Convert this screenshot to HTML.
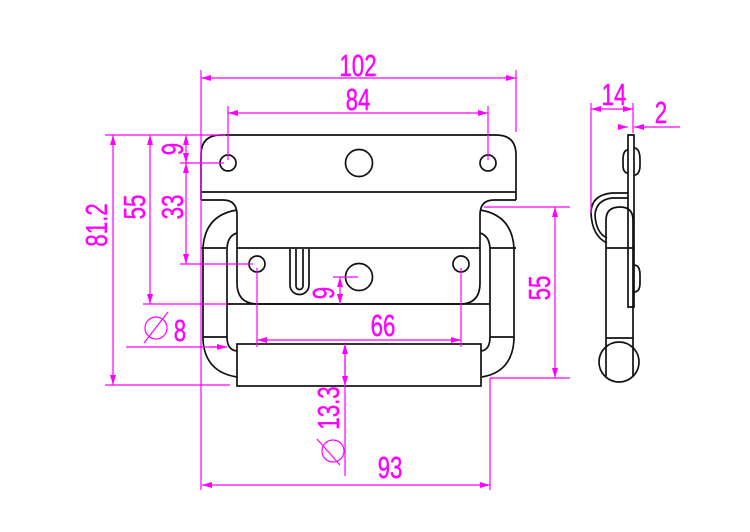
<!DOCTYPE html>
<html><head><style>body{margin:0;background:#fff}svg{display:block}</style></head><body>
<svg width="750" height="532" viewBox="0 0 750 532" xmlns="http://www.w3.org/2000/svg">
<defs>
<marker id="a" viewBox="0 0 10 6" refX="10" refY="3" markerWidth="16" markerHeight="6" markerUnits="userSpaceOnUse" orient="auto-start-reverse"><path d="M0,0L10,3L0,6z" fill="#f0f"/></marker>
</defs>
<g fill="none" stroke="#111" stroke-width="1.7">
<path d="M201,200 V155 Q201,135 221,135 H496 Q516,135 516,155 V200"/>
<line x1="201" y1="192" x2="516" y2="192"/>
<circle cx="228" cy="163" r="8"/><circle cx="359" cy="163" r="13.5"/><circle cx="488" cy="163" r="8"/>
<path d="M201,200 H223 Q237,200 237,215 V283 Q237,304 258,304 H460 Q480,304 480,283 V215 Q480,200 494,200 H516"/>
<line x1="237" y1="248" x2="480" y2="248"/>
<line x1="201" y1="248" x2="226" y2="248"/><line x1="490" y1="248" x2="516" y2="248"/>
<circle cx="257" cy="264" r="8"/><circle cx="359" cy="277" r="13.5"/><circle cx="461" cy="264" r="8"/>
<path d="M290,249 V285 A9.5,9.5 0 0 0 309,285 V249"/><path d="M296,249 V286 A3.5,3.5 0 0 0 303,286 V249"/>
<path d="M237,210 Q205,215 203,248 V340 Q205,372 237,377"/>
<path d="M480,210 Q512,215 514,248 V340 Q512,372 482,377"/>
<path d="M237,233 Q227,236 227,250 V337 Q227,350 237,351"/>
<path d="M480,233 Q490,236 490,250 V337 Q490,350 481,351"/>
<line x1="203" y1="337" x2="227" y2="337"/><line x1="490" y1="337" x2="514" y2="337"/>
<line x1="227" y1="304" x2="490" y2="304"/>
<rect x="237" y="344" width="244" height="42"/>
<path d="M628,307 V135 H634 V307 Z"/>
<path d="M634,148 Q640,148 640,160 V165 Q640,175 634,175"/>
<path d="M628,150 Q623,150 623,160 V165 Q623,173 628,173"/>
<path d="M634,265 Q640,265 640,275 V283 Q640,292 634,292"/>
<path d="M628,193 H612 Q591,195 591,213 Q592,236 607,243"/>
<path d="M628,198 H612 Q596,200 595,215 Q596,233 607,238"/>
<path d="M606,377 V220 Q606,207 620,207 Q633,207 633,220 V377"/>
<line x1="606" y1="248" x2="633" y2="248"/><line x1="606" y1="338" x2="633" y2="338"/>
<circle cx="619" cy="362" r="20"/>
</g>
<g stroke="#f0f" stroke-width="1.2" fill="none">
<line x1="201" y1="70" x2="201" y2="490"/><line x1="516" y1="70" x2="516" y2="132"/>
<line x1="228" y1="106" x2="228" y2="160"/><line x1="488" y1="106" x2="488" y2="160"/>
<line x1="201" y1="78" x2="516" y2="78" marker-start="url(#a)" marker-end="url(#a)"/>
<line x1="228" y1="113" x2="488" y2="113" marker-start="url(#a)" marker-end="url(#a)"/>
<line x1="105" y1="135" x2="226" y2="135"/><line x1="180" y1="163" x2="224" y2="163"/>
<line x1="180" y1="264" x2="253" y2="264"/><line x1="143" y1="304" x2="227" y2="304"/>
<line x1="105" y1="385" x2="230" y2="385"/>
<line x1="113" y1="135" x2="113" y2="385" marker-start="url(#a)" marker-end="url(#a)"/>
<line x1="150" y1="135" x2="150" y2="304" marker-start="url(#a)" marker-end="url(#a)"/>
<line x1="186" y1="163" x2="186" y2="264" marker-start="url(#a)" marker-end="url(#a)"/>
<line x1="186" y1="135" x2="186" y2="163" marker-start="url(#a)" marker-end="url(#a)"/>
<line x1="126" y1="347" x2="227" y2="347"/><line x1="210" y1="347" x2="227" y2="347" marker-end="url(#a)"/>
<line x1="257" y1="268" x2="257" y2="347"/><line x1="461" y1="268" x2="461" y2="347"/>
<line x1="257" y1="340" x2="461" y2="340" marker-start="url(#a)" marker-end="url(#a)"/>
<line x1="333" y1="277" x2="358" y2="277"/>
<line x1="340" y1="277" x2="340" y2="304" marker-start="url(#a)" marker-end="url(#a)"/>
<line x1="345" y1="344" x2="345" y2="476"/><line x1="345" y1="344" x2="345" y2="386" marker-start="url(#a)" marker-end="url(#a)"/>
<line x1="490" y1="378" x2="490" y2="490"/>
<line x1="202" y1="485" x2="490" y2="485" marker-start="url(#a)" marker-end="url(#a)"/>
<line x1="484" y1="207" x2="570" y2="207"/><line x1="490" y1="378" x2="570" y2="378"/>
<line x1="555" y1="207" x2="555" y2="378" marker-start="url(#a)" marker-end="url(#a)"/>
<line x1="591" y1="103" x2="591" y2="213"/><line x1="633" y1="103" x2="633" y2="133"/>
<line x1="591" y1="109" x2="633" y2="109" marker-start="url(#a)" marker-end="url(#a)"/>
<line x1="620" y1="127" x2="628" y2="127" marker-end="url(#a)"/>
<line x1="680" y1="127" x2="634" y2="127" marker-end="url(#a)"/>
<circle cx="156" cy="328" r="11"/><line x1="144" y1="343" x2="168" y2="312"/>
<circle cx="333" cy="451" r="11"/><line x1="317" y1="439" x2="340" y2="465"/>
</g>
<g fill="#f0f" font-family="'Liberation Sans',sans-serif" font-size="31" text-anchor="middle" stroke="#f0f" stroke-width="0.4">
<text transform="translate(358,76) scale(0.72,1)">102</text>
<text transform="translate(358,110) scale(0.72,1)">84</text>
<text transform="translate(383,336) scale(0.72,1)">66</text>
<text transform="translate(390,478) scale(0.72,1)">93</text>
<text transform="translate(614,105) scale(0.72,1)">14</text>
<text transform="translate(661,123) scale(0.72,1)">2</text>
<text transform="translate(180,341) scale(0.72,1)">8</text>
<text transform="translate(107,225) rotate(-90) scale(0.72,1)">81.2</text>
<text transform="translate(145,207) rotate(-90) scale(0.72,1)">55</text>
<text transform="translate(183,207) rotate(-90) scale(0.72,1)">33</text>
<text transform="translate(183,149) rotate(-90) scale(0.72,1)">9</text>
<text transform="translate(334,293) rotate(-90) scale(0.72,1)">9</text>
<text transform="translate(339,408) rotate(-90) scale(0.72,1)">13.3</text>
<text transform="translate(550,288) rotate(-90) scale(0.72,1)">55</text>
</g>
</svg>
</body></html>
